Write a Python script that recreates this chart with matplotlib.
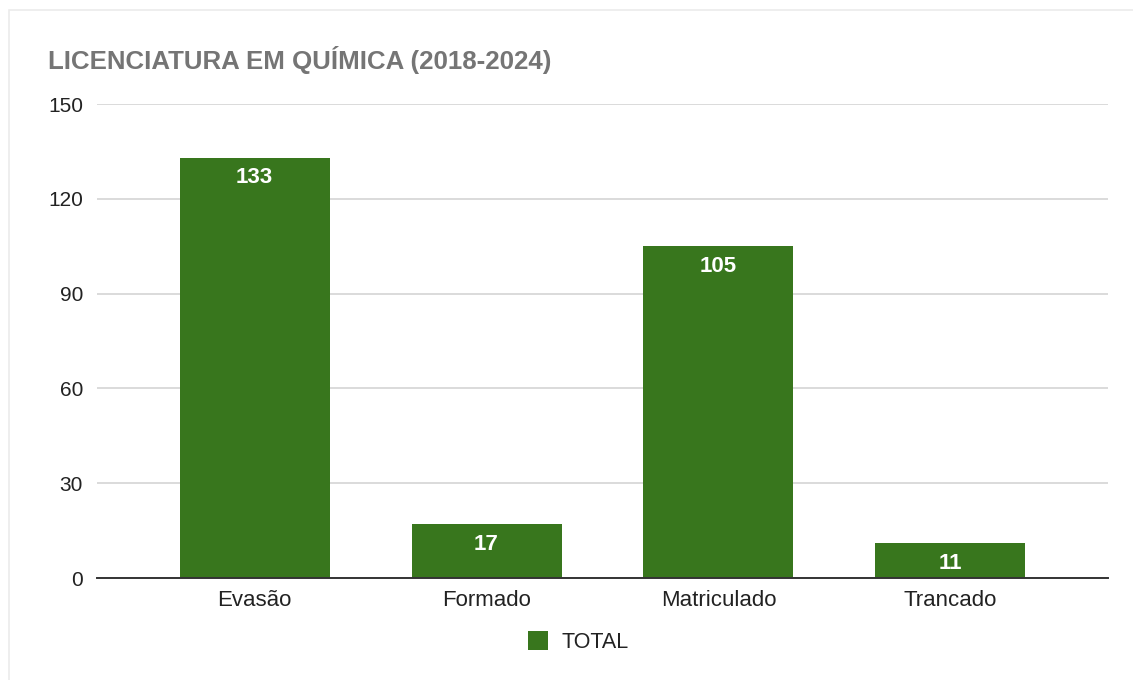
import matplotlib.pyplot as plt
from matplotlib.patches import Rectangle

categories = ['Evasão', 'Formado', 'Matriculado', 'Trancado']
totals = [133, 17, 105, 11]
y_ticks = [0, 30, 60, 90, 120, 150]

bar_color = '#38761d'
plt.rcParams['font.family'] = ['Liberation Sans', 'DejaVu Sans']

fig = plt.figure(figsize=(11.33, 6.8), dpi=100)
# faint frame round the chart card
fig.patches.append(Rectangle((9 / 1133, -0.01), 1.1, 1 - 10 / 680 + 0.01,
                             transform=fig.transFigure, fill=False,
                             edgecolor='#ebebeb', linewidth=1.2))

ax = fig.add_axes([97 / 1133, 1 - 578 / 680, (1108 - 97) / 1133, (578 - 104) / 680])
x = range(len(categories))
bars = ax.bar(x, totals, width=0.647, color=bar_color, label='TOTAL', zorder=3)

for b, v in zip(bars, totals):
    ax.annotate(str(v), (b.get_x() + b.get_width() / 2, v), xytext=(0, -14.5),
                textcoords='offset points', ha='center', va='center',
                color='white', fontsize=16, fontweight='bold', zorder=4)

ax.set_xlim(-0.68, 3.68)
ax.set_ylim(0, 150)
ax.set_yticks(y_ticks)
ax.set_xticks(list(x))
ax.set_xticklabels(categories)
ax.tick_params(axis='both', length=0, labelsize=15, colors='#222222')
ax.tick_params(axis='x', labelsize=16, pad=9)
ax.tick_params(axis='y', pad=10)
ax.grid(axis='y', color='#d4d4d4', linewidth=1.2, zorder=0)
for s in ['top', 'right', 'left']:
    ax.spines[s].set_visible(False)
ax.spines['bottom'].set_color('#333333')
ax.spines['bottom'].set_linewidth(1.4)
ax.spines['bottom'].set_zorder(5)

fig.text(48 / 1133, 1 - 60 / 680, 'LICENCIATURA EM QUÍMICA (2018-2024)',
         fontsize=18.6, fontweight='bold', color='#757575', va='center', ha='left')

fig.legend(loc='center', bbox_to_anchor=(578 / 1133, 1 - 642 / 680), frameon=False,
           fontsize=15.5, handlelength=0.95, handleheight=0.95, handletextpad=0.6,
           labelcolor='#222222')

fig.savefig('out.png', dpi=100, facecolor='white')
